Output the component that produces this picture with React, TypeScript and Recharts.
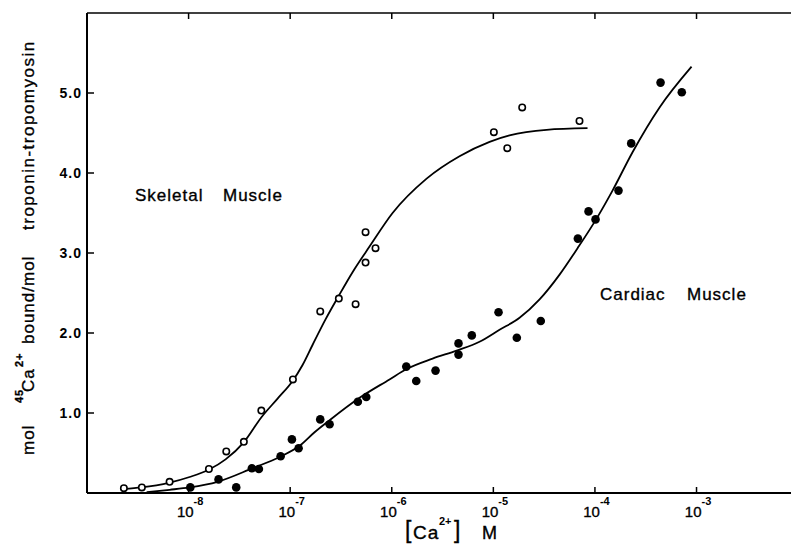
import { ComposedChart, Line, Scatter, XAxis, YAxis } from "recharts";

// x values are log10 [Ca2+] (M), y values are mol 45Ca2+ bound / mol troponin-tropomyosin
const skeletalLogCa = [
  -8.637, -8.46, -8.187, -7.8, -7.629, -7.456, -7.284, -6.973, -6.704, -6.521, -6.356, -6.258, -6.16,
  -6.258, -4.995, -4.863, -4.716, -4.152
];
const skeletalBound = [
  0.06, 0.07, 0.14, 0.3, 0.52, 0.64, 1.03, 1.42, 2.27, 2.43, 2.36, 3.26, 3.06, 2.88, 4.51, 4.31, 4.82, 4.65
];

const cardiacLogCa = [
  -7.983, -7.705, -7.531, -7.377, -7.308, -7.094, -6.983, -6.917, -6.704, -6.612, -6.334, -6.251, -5.857,
  -5.759, -5.569, -5.343, -5.343, -5.212, -4.949, -4.769, -4.533, -4.168, -4.063, -3.994, -3.768, -3.643,
  -3.354, -3.145
];
const cardiacBound = [
  0.07, 0.17, 0.07, 0.31, 0.3, 0.46, 0.67, 0.56, 0.92, 0.86, 1.14, 1.2, 1.58, 1.4, 1.53, 1.87, 1.73, 1.97,
  2.26, 1.94, 2.15, 3.18, 3.52, 3.42, 3.78, 4.37, 5.13, 5.01
];

// fitted curves
const skeletalCurveLogCa = [
  -8.64, -8.463, -8.187, -7.99, -7.803, -7.636, -7.459, -7.281, -7.124, -6.976, -6.878, -6.78, -6.652,
  -6.524, -6.386, -6.219, -5.992, -5.657, -5.333, -5.037, -4.841, -4.476, -4.073
];
const skeletalCurveBound = [
  0.05, 0.07, 0.13, 0.2, 0.29, 0.42, 0.63, 0.95, 1.18, 1.4, 1.6, 1.85, 2.17, 2.46, 2.76, 3.08, 3.5, 3.93,
  4.21, 4.39, 4.47, 4.54, 4.56
];

const cardiacCurveLogCa = [
  -8.413, -8.187, -7.99, -7.715, -7.37, -7.104, -6.907, -6.76, -6.612, -6.317, -6.022, -5.854, -5.598,
  -5.362, -5.136, -4.939, -4.742, -4.545, -4.348, -4.171, -3.984, -3.827, -3.63, -3.364, -3.049
];
const cardiacCurveBound = [
  0.01, 0.04, 0.07, 0.14, 0.31, 0.45, 0.59, 0.76, 0.91, 1.19, 1.42, 1.55, 1.68, 1.78, 1.89, 2.04, 2.19,
  2.42, 2.73, 3.06, 3.43, 3.78, 4.26, 4.82, 5.33
];

const xTicks = [-8, -7, -6, -5, -4, -3];
const yTicks = [1, 2, 3, 4, 5];

const pairs = (xs: number[], ys: number[]) => xs.map((x, i) => ({ x, y: ys[i] }));

const skeletalPoints = pairs(skeletalLogCa, skeletalBound);
const cardiacPoints = pairs(cardiacLogCa, cardiacBound);
const skeletalCurve = pairs(skeletalCurveLogCa, skeletalCurveBound);
const cardiacCurve = pairs(cardiacCurveLogCa, cardiacCurveBound);

const font = '"Liberation Sans", Arial, sans-serif';
const W = 791;
const H = 546;
// a thin outline makes the text look as heavy as the printed figure
const ink = { fill: "#000", stroke: "#000", strokeWidth: 0.35 };

const BottomTick = (props: any) => {
  const { x, y, payload } = props;
  return (
    <g fontFamily={font}>
      <line x1={x} x2={x} y1={y} y2={y - 6} stroke="#000" strokeWidth={1.5} />
      <text x={x + 5} y={y + 24} textAnchor="end" fontSize={15} {...ink}>
        10
      </text>
      <text x={x + 5} y={y + 12} fontSize={11} fontWeight="bold" fill="#000">
        {String(payload.value)}
      </text>
    </g>
  );
};

const TopTick = (props: any) => {
  const { x, y } = props;
  return <line x1={x} x2={x} y1={y} y2={y + 6} stroke="#000" strokeWidth={1.5} />;
};

const LeftTick = (props: any) => {
  const { x, y, payload } = props;
  return (
    <g>
      <line x1={x} x2={x + 7} y1={y} y2={y} stroke="#000" strokeWidth={1.5} />
      <text
        x={x - 5}
        y={y + 5}
        textAnchor="end"
        fontSize={14}
        fontWeight="bold"
        letterSpacing={1}
        fontFamily={font}
        fill="#000"
      >
        {payload.value.toFixed(1)}
      </text>
    </g>
  );
};

const OpenDot = (props: any) => (
  <circle cx={props.cx} cy={props.cy} r={3.2} fill="#fff" stroke="#000" strokeWidth={1.6} />
);
const FilledDot = (props: any) => <circle cx={props.cx} cy={props.cy} r={4.3} fill="#000" />;

export default function App() {
  return (
    <div style={{ position: "absolute", left: 0, top: 0, width: W, height: H, overflow: "hidden", background: "#fff" }}>
      <ComposedChart width={W} height={H} margin={{ top: 0, right: 0, bottom: 0, left: 0 }}>
        <XAxis
          xAxisId="bottom"
          dataKey="x"
          type="number"
          domain={[-9, -2.07]}
          ticks={xTicks}
          allowDataOverflow
          height={53}
          axisLine={{ stroke: "#000", strokeWidth: 2 }}
          tickLine={false}
          tickSize={0}
          tickMargin={0}
          tick={<BottomTick />}
          interval={0}
        />
        <XAxis
          xAxisId="top"
          orientation="top"
          dataKey="x"
          type="number"
          domain={[-9, -2.07]}
          ticks={xTicks}
          allowDataOverflow
          height={13}
          axisLine={{ stroke: "#000", strokeWidth: 1.5 }}
          tickLine={false}
          tickSize={0}
          tickMargin={0}
          tick={<TopTick />}
          interval={0}
        />
        <YAxis
          dataKey="y"
          type="number"
          domain={[0, 6]}
          ticks={yTicks}
          allowDataOverflow
          width={87}
          axisLine={{ stroke: "#000", strokeWidth: 2 }}
          tickLine={false}
          tickSize={0}
          tickMargin={0}
          tick={<LeftTick />}
          interval={0}
        />
        <Line
          xAxisId="bottom"
          data={skeletalCurve}
          dataKey="y"
          type="monotone"
          stroke="#000"
          strokeWidth={1.8}
          dot={false}
          activeDot={false}
          isAnimationActive={false}
        />
        <Line
          xAxisId="bottom"
          data={cardiacCurve}
          dataKey="y"
          type="monotone"
          stroke="#000"
          strokeWidth={1.8}
          dot={false}
          activeDot={false}
          isAnimationActive={false}
        />
        <Scatter xAxisId="bottom" data={skeletalPoints} dataKey="y" shape={<OpenDot />} isAnimationActive={false} />
        <Scatter xAxisId="bottom" data={cardiacPoints} dataKey="y" shape={<FilledDot />} isAnimationActive={false} />
      </ComposedChart>
      <svg
        width={W}
        height={H}
        style={{ position: "absolute", left: 0, top: 0, pointerEvents: "none" }}
        fontFamily={font}
      >
        <text x={135} y={201} fontSize={17} letterSpacing={1} {...ink}>
          Skeletal
        </text>
        <text x={223} y={201} fontSize={17} letterSpacing={1} {...ink}>
          Muscle
        </text>
        <text x={600} y={300} fontSize={17} letterSpacing={1} {...ink}>
          Cardiac
        </text>
        <text x={687} y={300} fontSize={17} letterSpacing={1} {...ink}>
          Muscle
        </text>
        <text x={405} y={538} fontSize={23} {...ink}>
          [
        </text>
        <text x={413} y={539} fontSize={19} letterSpacing={1} {...ink}>
          Ca
        </text>
        <text x={439} y={525} fontSize={11} fontWeight="bold" fill="#000">
          2+
        </text>
        <text x={454} y={538} fontSize={23} {...ink}>
          ]
        </text>
        <text x={482} y={539} fontSize={18} {...ink}>
          M
        </text>
        <g transform="translate(34,455) rotate(-90)">
          <text fontSize={17} letterSpacing={1} {...ink}>
            <tspan x={0} y={0}>mol</tspan>
            <tspan x={52} y={-11} fontSize={11} fontWeight="bold">45</tspan>
            <tspan x={63} y={0}>Ca</tspan>
            <tspan x={88} y={-11} fontSize={11} fontWeight="bold">2+</tspan>
            <tspan x={111} y={0}>bound/mol</tspan>
            <tspan x={225} y={0} letterSpacing={1.5}>troponin-tropomyosin</tspan>
          </text>
        </g>
      </svg>
    </div>
  );
}
